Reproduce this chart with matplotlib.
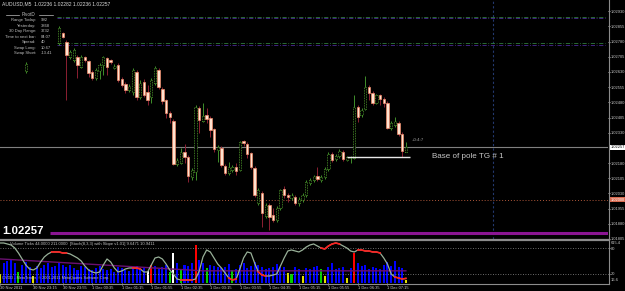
import matplotlib
matplotlib.use("Agg")
import matplotlib.pyplot as plt
from matplotlib.lines import Line2D
import numpy as np

W, H = 625, 291
DPI = 100
BAR_PX = 3.69          # pixels per M5 bar
PRICE_PX = 20267       # pixels per 1.0 of price in the main window

header = "AUDUSD,M5  1.02236 1.02282 1.02236 1.02257"

# ---- candles (bar number counted from 30 Nov 2011 22:30) ----
bar_idx = [7] + list(range(16, 111))
opens = [1.02635,
         1.02773, 1.02822, 1.02778, 1.02704, 1.02689, 1.02704, 1.02654, 1.02704, 1.02684, 1.02630,
         1.02600, 1.02635, 1.02664, 1.02699, 1.02689, 1.02650, 1.02664, 1.02595, 1.02571, 1.02541,
         1.02531, 1.02630, 1.02506, 1.02580, 1.02531, 1.02506, 1.02576, 1.02640, 1.02546, 1.02492,
         1.02427, 1.02388, 1.02176, 1.02181, 1.02235, 1.02210, 1.02112, 1.02136, 1.02452, 1.02388,
         1.02418, 1.02403, 1.02348, 1.02245, 1.02255, 1.02166, 1.02131, 1.02146, 1.02161, 1.02146,
         1.02289, 1.02274, 1.02230, 1.02156, 1.01983, 1.02033, 1.01919, 1.01974, 1.01924, 1.01900,
         1.01959, 1.02052, 1.02023, 1.02008, 1.02013, 1.01983, 1.01998, 1.02023, 1.02082, 1.02097,
         1.02117, 1.02097, 1.02112, 1.02151, 1.02225, 1.02200, 1.02215, 1.02235, 1.02196, 1.02205,
         1.02205, 1.02457, 1.02418, 1.02447, 1.02556, 1.02526, 1.02477, 1.02516, 1.02497, 1.02477,
         1.02353, 1.02368, 1.02378, 1.02324, 1.02236]
highs = [1.02679,
         1.02857, 1.02827, 1.02788, 1.02738, 1.02748, 1.02714, 1.02714, 1.02709, 1.02689, 1.02640,
         1.02650, 1.02674, 1.02709, 1.02704, 1.02694, 1.02669, 1.02674, 1.02605, 1.02580, 1.02571,
         1.02650, 1.02640, 1.02590, 1.02595, 1.02566, 1.02600, 1.02659, 1.02650, 1.02556, 1.02497,
         1.02437, 1.02398, 1.02205, 1.02255, 1.02274, 1.02220, 1.02156, 1.02467, 1.02462, 1.02477,
         1.02452, 1.02413, 1.02353, 1.02270, 1.02265, 1.02176, 1.02186, 1.02171, 1.02181, 1.02289,
         1.02294, 1.02284, 1.02235, 1.02166, 1.02057, 1.02043, 1.01983, 1.01983, 1.01959, 1.01969,
         1.02052, 1.02067, 1.02033, 1.02033, 1.02023, 1.02013, 1.02033, 1.02097, 1.02107, 1.02122,
         1.02161, 1.02122, 1.02161, 1.02235, 1.02235, 1.02225, 1.02250, 1.02245, 1.02215, 1.02215,
         1.02516, 1.02467, 1.02452, 1.02610, 1.02566, 1.02536, 1.02521, 1.02521, 1.02506, 1.02487,
         1.02388, 1.02408, 1.02388, 1.02334, 1.02282]
lows = [1.02625,
        1.02763, 1.02798, 1.02492, 1.02694, 1.02679, 1.02600, 1.02650, 1.02679, 1.02605, 1.02590,
        1.02590, 1.02595, 1.02615, 1.02615, 1.02669, 1.02645, 1.02580, 1.02556, 1.02526, 1.02531,
        1.02516, 1.02492, 1.02497, 1.02506, 1.02467, 1.02477, 1.02566, 1.02546, 1.02472, 1.02403,
        1.02378, 1.02171, 1.02166, 1.02176, 1.02181, 1.02087, 1.02097, 1.02097, 1.02329, 1.02383,
        1.02378, 1.02309, 1.02235, 1.02186, 1.02161, 1.02122, 1.02122, 1.02136, 1.02122, 1.02141,
        1.02265, 1.02205, 1.02151, 1.02013, 1.01974, 1.01865, 1.01909, 1.01850, 1.01890, 1.01890,
        1.01949, 1.02008, 1.01988, 1.01998, 1.01974, 1.01969, 1.01988, 1.02013, 1.02072, 1.02087,
        1.02092, 1.02087, 1.02102, 1.02141, 1.02186, 1.02191, 1.02205, 1.02191, 1.02191, 1.02181,
        1.02200, 1.02383, 1.02408, 1.02442, 1.02492, 1.02467, 1.02472, 1.02467, 1.02457, 1.02348,
        1.02344, 1.02358, 1.02314, 1.02210, 1.02236]
closes = [1.02669,
          1.02847, 1.02802, 1.02714, 1.02728, 1.02738, 1.02664, 1.02704, 1.02689, 1.02625, 1.02600,
          1.02640, 1.02664, 1.02704, 1.02654, 1.02679, 1.02659, 1.02590, 1.02566, 1.02541, 1.02561,
          1.02640, 1.02506, 1.02576, 1.02516, 1.02492, 1.02590, 1.02650, 1.02556, 1.02487, 1.02427,
          1.02408, 1.02176, 1.02196, 1.02235, 1.02210, 1.02117, 1.02146, 1.02457, 1.02393, 1.02413,
          1.02398, 1.02344, 1.02250, 1.02260, 1.02171, 1.02131, 1.02161, 1.02161, 1.02141, 1.02284,
          1.02279, 1.02225, 1.02161, 1.02023, 1.02048, 1.01934, 1.01974, 1.01914, 1.01900, 1.01959,
          1.02048, 1.02023, 1.02013, 1.02023, 1.01983, 1.02003, 1.02023, 1.02087, 1.02097, 1.02117,
          1.02102, 1.02112, 1.02151, 1.02225, 1.02196, 1.02215, 1.02240, 1.02200, 1.02210, 1.02210,
          1.02457, 1.02408, 1.02442, 1.02556, 1.02526, 1.02477, 1.02516, 1.02497, 1.02477, 1.02353,
          1.02378, 1.02388, 1.02324, 1.02240, 1.02257]

# ---- objects on the chart ----
green_lines = [1.02900, 1.02775]
violet_lines = [1.02895, 1.02765]
bid_price = 1.02257
order_price = 1.02000
stop_price = 1.01836
pole_price = 1.02211
pole_bars = [94, 111]
future_bar = 133.6

price_ticks = [1.02930, 1.02855, 1.02780, 1.02705, 1.02630, 1.02555, 1.02480, 1.02405,
               1.02330, 1.02180, 1.02105, 1.02030, 1.01955, 1.01880, 1.01805]

time_ticks = [0, 9, 17, 25, 33, 41, 49, 57, 65, 73, 81, 89, 97, 105]
time_labels = ["30 Nov 2011", "30 Nov 23:15", "30 Nov 23:55", "1 Dec 00:35", "1 Dec 01:15",
               "1 Dec 01:55", "1 Dec 02:35", "1 Dec 03:15", "1 Dec 03:55", "1 Dec 04:35",
               "1 Dec 05:15", "1 Dec 05:55", "1 Dec 06:35", "1 Dec 07:15"]

info_labels = ["Range Today:", "Yesterday:", "30 Day Range:", "Time to next bar:",
               "Spread:", "Swap Long:", "Swap Short:"]
info_values = ["992", "3868", "3732", "04:07", "40", "10.67", "-13.41"]

# ---- indicator window: volume ticks + stochastic with slope ----
volume = [150, 300, 330, 340, 300, 170, 270, 320, 250, 110,
          260, 230, 280, 300, 250, 260, 300, 280, 240, 270,
          230, 200, 260, 240, 220, 200, 230, 260, 220, 200,
          210, 180, 250, 230, 200, 190, 230, 260, 210, 240,
          190, 280, 260, 220, 250, 280, 180, 440, 300, 210,
          280, 260, 300, 560, 340, 300, 230, 280, 260, 240,
          230, 250, 290, 200, 210, 280, 300, 230, 260, 320,
          280, 250, 220, 230, 250, 290, 240, 250, 160, 150,
          240, 220, 120, 230, 210, 250, 260, 220, 110, 250,
          300, 220, 230, 250, 90, 230, 440, 300, 260, 270,
          220, 250, 230, 210, 280, 320, 260, 330, 250, 230, 60]
volume_kind = {0: "y", 5: "g", 9: "y", 40: "w", 41: "r", 46: "g", 47: "w", 49: "g",
               53: "r", 56: "g", 63: "g", 78: "y", 79: "g", 82: "y", 87: "g", 88: "y",
               94: "y", 96: "r", 110: "y"}
vol_ma_bars = [0, 55, 110]
vol_ma = [360, 190, 190]

stoch = [92.9, 92.9, 90.6, 88.2, 81.2, 69.4, 55.3, 41.2, 31.8, 29.4,
         34.1, 48.2, 60.0, 67.1, 71.8, 71.8, 71.8, 69.4, 69.4, 67.1,
         62.4, 57.6, 50.6, 38.8, 29.4, 24.7, 22.4, 24.7, 41.2, 55.3,
         48.2, 34.1, 24.7, 27.1, 31.8, 34.1, 34.1, 34.1, 31.8, 24.7,
         24.7, 41.2, 57.6, 60.0, 55.3, 43.5, 29.4, 20.0, 8.2, 5.9,
         5.9, 5.9, 5.9, 8.2, 27.1, 60.0, 76.5, 71.8, 57.6, 43.5,
         34.1, 22.4, 10.6, 5.9, 8.2, 31.8, 57.6, 71.8, 69.4, 45.9,
         24.7, 17.6, 15.3, 15.3, 17.6, 20.0, 38.8, 57.6, 74.1, 76.5,
         74.1, 71.8, 76.5, 83.5, 88.2, 90.6, 85.9, 81.2, 78.8, 85.9,
         90.6, 92.9, 90.6, 85.9, 81.2, 74.1, 71.8, 76.5, 76.5, 74.1,
         74.1, 71.8, 71.8, 69.4, 57.6, 43.5, 20.0, 12.9, 10.6, 8.2, 9.6]
flat_runs = [(14, 18), (36, 38), (49, 52), (62, 64), (70, 72), (87, 92), (97, 103), (107, 110)]

# ------------------------------------------------------------------
plt.rcParams["font.family"] = "Liberation Sans"
fig = plt.figure(figsize=(W / DPI, H / DPI), dpi=DPI, facecolor="black")

TXT = "#c8c8c8"
SMALL = 2.9


def fx(x):
    return x / W


def fy(y):
    return 1 - y / H


xmax = 608 / BAR_PX
ref_price, ref_row = 1.02255, 148
p_top = ref_price + ref_row / PRICE_PX
p_bot = ref_price - (239 - ref_row) / PRICE_PX


def row_price(row):
    return ref_price + (ref_row - row) / PRICE_PX


ax = fig.add_axes([0, fy(239), fx(608), 239 / H])
ax.set_facecolor("black")
ax.set_xlim(0, xmax)
ax.set_ylim(p_bot, p_top)
for s in ax.spines.values():
    s.set_visible(False)
ax.set_xticks([])
ax.yaxis.tick_right()
ax.set_yticks(price_ticks)
ax.set_yticklabels([f"{p:.5f}" for p in price_ticks])
ax.tick_params(axis="y", colors=TXT, labelsize=SMALL, length=1.6, pad=0.6, width=0.6)

# candles
x = np.array(bar_idx, float)
o, h, l, c = (np.array(v) for v in (opens, highs, lows, closes))
up = c >= o
ax.vlines(x[up], l[up], h[up], color="#3f8f2a", lw=0.7, zorder=3)
ax.vlines(x[~up], l[~up], h[~up], color="#8c1f32", lw=0.7, zorder=3)
body_lo = np.minimum(o, c)
body_h = np.maximum(np.abs(c - o), 0.000015)
ax.bar(x[up], body_h[up], bottom=body_lo[up], width=0.62, facecolor="black",
       edgecolor="#4f9a2c", linewidth=0.6, linestyle=(0, (1, 1)), zorder=4)
ax.bar(x[~up], body_h[~up], bottom=body_lo[~up], width=0.66, facecolor="#ffe2cf",
       edgecolor="#f08868", linewidth=0.5, zorder=4)

# horizontal objects
ax.hlines(green_lines, 57 / BAR_PX, 605 / BAR_PX, color="#2f7a3a", lw=0.6,
          linestyle=(0, (5, 2, 1, 2)), zorder=2)
ax.hlines(violet_lines, 57 / BAR_PX, 605 / BAR_PX, color="#4b2a96", lw=0.6,
          linestyle=(0, (5, 2, 1, 2)), zorder=2)
ax.axhline(bid_price, color="#808080", lw=0.8, zorder=1)
ax.axhline(order_price, color="#b0583a", lw=0.7, linestyle=(0, (1, 2)), zorder=1)
ax.hlines(stop_price, 50 / BAR_PX, xmax, color="#8a1592", lw=2.2, zorder=2)
ax.hlines(pole_price, pole_bars[0], pole_bars[1], color="#e8e8e8", lw=1.0, zorder=5)
ax.axvline(future_bar, color="#23386e", lw=0.8, linestyle=(0, (2, 2)), zorder=1)

ax.text(412 / BAR_PX, row_price(140), "+0:4:7", color="#a0a0a0", fontsize=3.2,
        va="center", ha="left")
ax.text(432 / BAR_PX, row_price(156.5), "Base of pole TG # 1", color=TXT,
        fontsize=5.8, va="center", ha="left")

# price boxes on the scale
ax.annotate(f"{bid_price:.5f}", xy=(1.0, bid_price), xycoords=("axes fraction", "data"),
            xytext=(1.8, 0), textcoords="offset points", fontsize=SMALL, color="black",
            va="center", ha="left", annotation_clip=False, zorder=10,
            bbox=dict(boxstyle="square,pad=0.15", fc="white", ec="none"))
ax.annotate(f"{order_price:.5f}", xy=(1.0, order_price), xycoords=("axes fraction", "data"),
            xytext=(1.8, 0), textcoords="offset points", fontsize=SMALL, color="white",
            va="center", ha="left", annotation_clip=False, zorder=10,
            bbox=dict(boxstyle="square,pad=0.15", fc="#d86a50", ec="none"))

# info block
fig.text(fx(2), fy(4), header, color="#d8d8d8", fontsize=3.6, va="center", ha="left")
fig.text(fx(29), fy(15), "PivotD", color="#c0c0c0", fontsize=3.3, va="center", ha="center")
fig.add_artist(Line2D([fx(6), fx(19)], [fy(15), fy(15)], color="#c0c0c0", lw=0.5))
fig.add_artist(Line2D([fx(39), fx(53)], [fy(15), fy(15)], color="#c0c0c0", lw=0.5))
for k, (lab, val) in enumerate(zip(info_labels, info_values)):
    yy = 20 + k * 5.55
    fig.text(fx(36), fy(yy), lab, color="#c0c0c0", fontsize=3.0, va="center", ha="right")
    fig.text(fx(41), fy(yy), val, color="#c0c0c0", fontsize=3.0, va="center", ha="left")

fig.text(fx(2), fy(231.5), f"{bid_price:.5f}", color="white", fontsize=8.2,
         fontweight="bold", va="center", ha="left")

# ---- indicator window ----
axi = fig.add_axes([0, fy(283), fx(608), 42 / H])
axi.set_facecolor("black")
axi.set_xlim(0, xmax)
axi.set_ylim(16.6, 615.4)
for s in axi.spines.values():
    s.set_visible(False)
axi.set_yticks([])
palette = {"b": "#0000ff", "g": "#00d000", "y": "#e0e000", "r": "#ff0000", "w": "#ffffff"}
vcols = [palette[volume_kind.get(i, "b")] for i in range(len(volume))]
axi.bar(np.arange(len(volume)), np.array(volume) - 16.6, bottom=16.6, width=0.55,
        color=vcols, linewidth=0, zorder=2)
axi.plot(vol_ma_bars, vol_ma, color="#6a1070", lw=1.0, zorder=3)
axi.set_xticks(time_ticks)
axi.set_xticklabels(time_labels)
axi.tick_params(axis="x", colors=TXT, labelsize=SMALL, length=1.5, pad=0.6, width=0.6)
for t in axi.get_xticklabels():
    t.set_ha("left")

axs = axi.twinx()
axs.set_xlim(0, xmax)
axs.set_ylim(-1.2, 97.6)
axs.patch.set_visible(False)
for s in axs.spines.values():
    s.set_visible(False)
axs.axhline(80, color="#909090", lw=0.6, linestyle=(0, (1, 2)))
axs.axhline(20, color="#909090", lw=0.6, linestyle=(0, (1, 2)))
sx = np.arange(len(stoch))
axs.plot(sx, stoch, color="#98b098", lw=0.9, zorder=4)
for a, b in flat_runs:
    axs.plot(sx[a:b + 1], stoch[a:b + 1], color="#ff2020", lw=1.2, zorder=5)
axs.set_yticks([80, 20])
axs.tick_params(axis="y", colors=TXT, labelsize=SMALL, length=1.6, pad=0.6, width=0.6)

fig.text(fx(10), fy(243.5),
         "Volume Ticks 44.0000 211.0000  [Stoch(8,3,3) with Slope v1.01] 9.6471 10.9411",
         color="#c0c0c0", fontsize=3.0, va="center", ha="left")
fig.text(fx(2), fy(278.5), "CVDD - MetaTrader, \u00a9 2001-2011 MetaQuotes Software Corp.",
         color="#c0c0c0", fontsize=2.8, va="center", ha="left")
fig.text(fx(611), fy(243), "615.4", color=TXT, fontsize=SMALL, va="center", ha="left")
fig.text(fx(611), fy(280), "16.6", color=TXT, fontsize=SMALL, va="center", ha="left")

# window frames
frame = "#8c8c8c"
fig.add_artist(Line2D([fx(608.5), fx(608.5)], [fy(0), fy(283.5)], color=frame, lw=0.8))
fig.add_artist(Line2D([0, fx(608.5)], [fy(240), fy(240)], color=frame, lw=1.6))
fig.add_artist(Line2D([0, fx(608.5)], [fy(283.5), fy(283.5)], color=frame, lw=0.8))

fig.savefig("out.png", dpi=DPI, facecolor="black")
